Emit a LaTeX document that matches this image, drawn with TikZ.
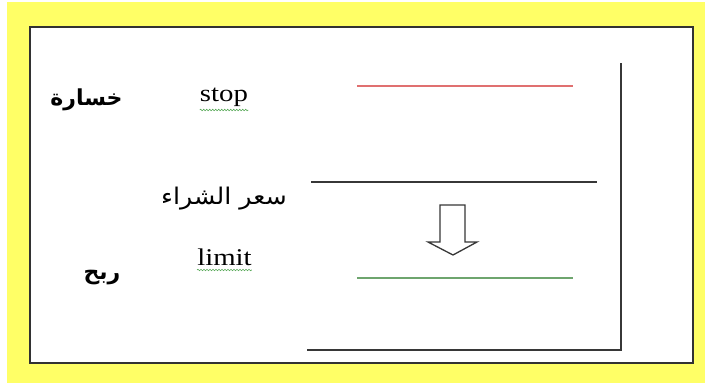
\documentclass[tikz,border=0pt]{standalone}
\usepackage{fontspec}
\setmainfont{Liberation Serif}
\newfontfamily\arabicfont[Script=Arabic]{DejaVu Sans}
\TeXXeTstate=1
\usetikzlibrary{decorations.pathmorphing}
\definecolor{bgyellow}{RGB}{255,255,102}
\definecolor{framecol}{RGB}{50,50,50}
\definecolor{lossred}{RGB}{224,112,112}
\definecolor{gaingreen}{RGB}{110,165,110}
\definecolor{wavygreen}{RGB}{90,170,90}
\definecolor{linegray}{RGB}{55,55,55}
\tikzset{
  latin/.style={font=\fontsize{24}{24}\selectfont, inner sep=0pt, anchor=base, xscale=1.2, transform shape},
  arabicbold/.style={font=\arabicfont\bfseries\fontsize{22}{22}\selectfont, inner sep=0pt, anchor=base},
  arabicreg/.style={font=\arabicfont\fontsize{23}{23}\selectfont, inner sep=0pt, anchor=base, xscale=1.1, transform shape},
  wavy/.style={draw=wavygreen, line width=0.6pt, decorate, decoration={snake, segment length=3pt, amplitude=0.8pt}},
  levelline/.style={line width=2.7pt},
  blackline/.style={draw=linegray, line width=2pt},
  hollowarrow/.style={draw=linegray, line width=1.3pt, fill=white, line join=miter}
}
\begin{document}
\begin{tikzpicture}[x=1pt,y=-1pt]
\useasboundingbox (0,0) rectangle (705,389);
\fill[white] (0,0) rectangle (705,389);
\fill[bgyellow] (7,2) rectangle (705,383);
\draw[framecol, line width=2pt, fill=white] (30,27) rectangle (693,363);

% level lines
\coordinate (redL) at (357,86);
\coordinate (redR) at (573,86);
\coordinate (grnL) at (357,278);
\coordinate (grnR) at (573,278);
\coordinate (buyL) at (311,182);
\coordinate (buyR) at (597,182);
\coordinate (axTop) at (621,63);
\coordinate (axCorner) at (621,350);
\coordinate (axLeft) at (307,350);
\draw[levelline, draw=lossred] (redL) -- (redR);
\draw[levelline, draw=gaingreen] (grnL) -- (grnR);
\draw[blackline] (buyL) -- (buyR);
\draw[blackline] (axTop) -- (axCorner) -- (axLeft);

% hollow down arrow
\draw[hollowarrow] (440,205) -- (465,205) -- (465,242) -- (477,242) -- (453,255) -- (428,242) -- (440,242) -- cycle;

% texts
\node[latin] (stop) at (224,101) {stop};
\node[latin] (limit) at (224.5,265) {limit};
\draw[wavy] ([yshift=-9pt]stop.base west) -- ([yshift=-9pt]stop.base east);
\draw[wavy] ([yshift=-5pt]limit.base west) -- ([yshift=-5pt]limit.base east);

\node[arabicbold] (loss) at (86.5,105) {\beginR خسارة\endR};
\node[arabicbold] (gain) at (102,279) {\beginR ربح\endR};
\node[arabicreg] (buy) at (224,204) {\beginR سعر الشراء\endR};
\end{tikzpicture}
\end{document}
